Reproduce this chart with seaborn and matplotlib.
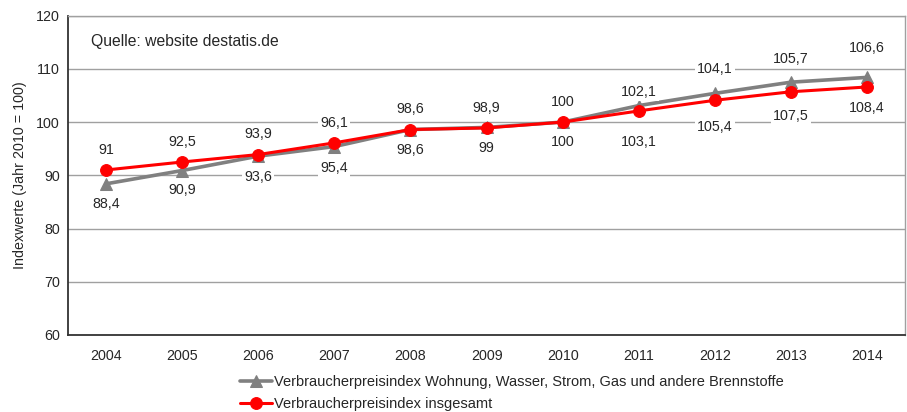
import matplotlib
matplotlib.use("Agg")
import numpy as np
import pandas as pd
import seaborn as sns
from matplotlib import pyplot as plt

# data
years = ["2004", "2005", "2006", "2007", "2008", "2009", "2010", "2011", "2012", "2013", "2014"]
wohnung = [88.4, 90.9, 93.6, 95.4, 98.6, 99.0, 100.0, 103.1, 105.4, 107.5, 108.4]
insgesamt = [91.0, 92.5, 93.9, 96.1, 98.6, 98.9, 100.0, 102.1, 104.1, 105.7, 106.6]
label_wohnung = "Verbraucherpreisindex Wohnung, Wasser, Strom, Gas und andere Brennstoffe"
label_gesamt = "Verbraucherpreisindex insgesamt"

# where the value labels sit (y in data units), as placed in the original
y_lab_gesamt = [94.8, 96.3, 97.8, 99.9, 102.5, 102.7, 103.8, 105.7, 110.0, 111.9, 114.0]
y_lab_wohnung = [84.6, 87.3, 89.7, 91.4, 94.8, 95.2, 96.3, 96.3, 99.1, 101.2, 102.7]

sns.set_style("white")
plt.rcParams['font.family'] = ['Liberation Sans', 'DejaVu Sans']

pos = np.arange(len(years))
df = pd.DataFrame({"pos": pos, "wohnung": wohnung, "insgesamt": insgesamt})

fig, ax = plt.subplots(figsize=(9.07, 4.12), dpi=100)
fig.subplots_adjust(left=0.075, right=0.998, top=0.962, bottom=0.187)

sns.lineplot(data=df, x="pos", y="wohnung", ax=ax, color="#808080", lw=2.6,
             marker="^", markersize=8.5, markeredgecolor="#808080", label=label_wohnung)
sns.lineplot(data=df, x="pos", y="insgesamt", ax=ax, color="#ff0000", lw=2.2,
             marker="o", markersize=8.5, markeredgecolor="#ff0000", label=label_gesamt)

box = dict(facecolor="white", edgecolor="none", pad=1.5)
for i in pos:
    ax.text(i, y_lab_gesamt[i], f"{insgesamt[i]:g}".replace(".", ","), ha="center",
            va="center", fontsize=10.3, bbox=box, zorder=5)
    ax.text(i, y_lab_wohnung[i], f"{wohnung[i]:g}".replace(".", ","), ha="center",
            va="center", fontsize=10.3, bbox=box, zorder=5)

ax.text(0.027, 0.905, "Quelle: website destatis.de", transform=ax.transAxes, fontsize=11.3)

ax.set_ylim(60, 120)
ax.set_yticks(range(60, 121, 10))
ax.set_xlim(-0.5, len(years) - 0.5)
ax.set_xticks(pos)
ax.set_xticklabels(years)
ax.set_xticks(np.arange(-0.5, len(years), 1.0), minor=True)
ax.tick_params(axis="x", which="major", length=0, pad=10, labelsize=10.3)
ax.tick_params(axis="x", which="minor", length=5, width=1, color="#333333")
ax.tick_params(axis="y", length=4, width=1, color="#333333", labelsize=10.3, pad=2)
ax.set_xlabel("")
ax.set_ylabel("Indexwerte (Jahr 2010 = 100)", fontsize=10.3, labelpad=6)

ax.grid(axis="y", color="#a0a0a0", lw=1)
ax.set_axisbelow(True)
for side in ["left", "bottom"]:
    ax.spines[side].set_color("#333333")
    ax.spines[side].set_linewidth(1.3)
for side in ["top", "right"]:
    ax.spines[side].set_color("#a0a0a0")
    ax.spines[side].set_linewidth(1)

ax.legend(loc="upper left", bbox_to_anchor=(0.205, -0.125), frameon=False, fontsize=10.5,
          handlelength=2.2, handletextpad=0.15, labelspacing=0.55, borderaxespad=0,
          borderpad=0)

fig.savefig("out.png", dpi=100)
